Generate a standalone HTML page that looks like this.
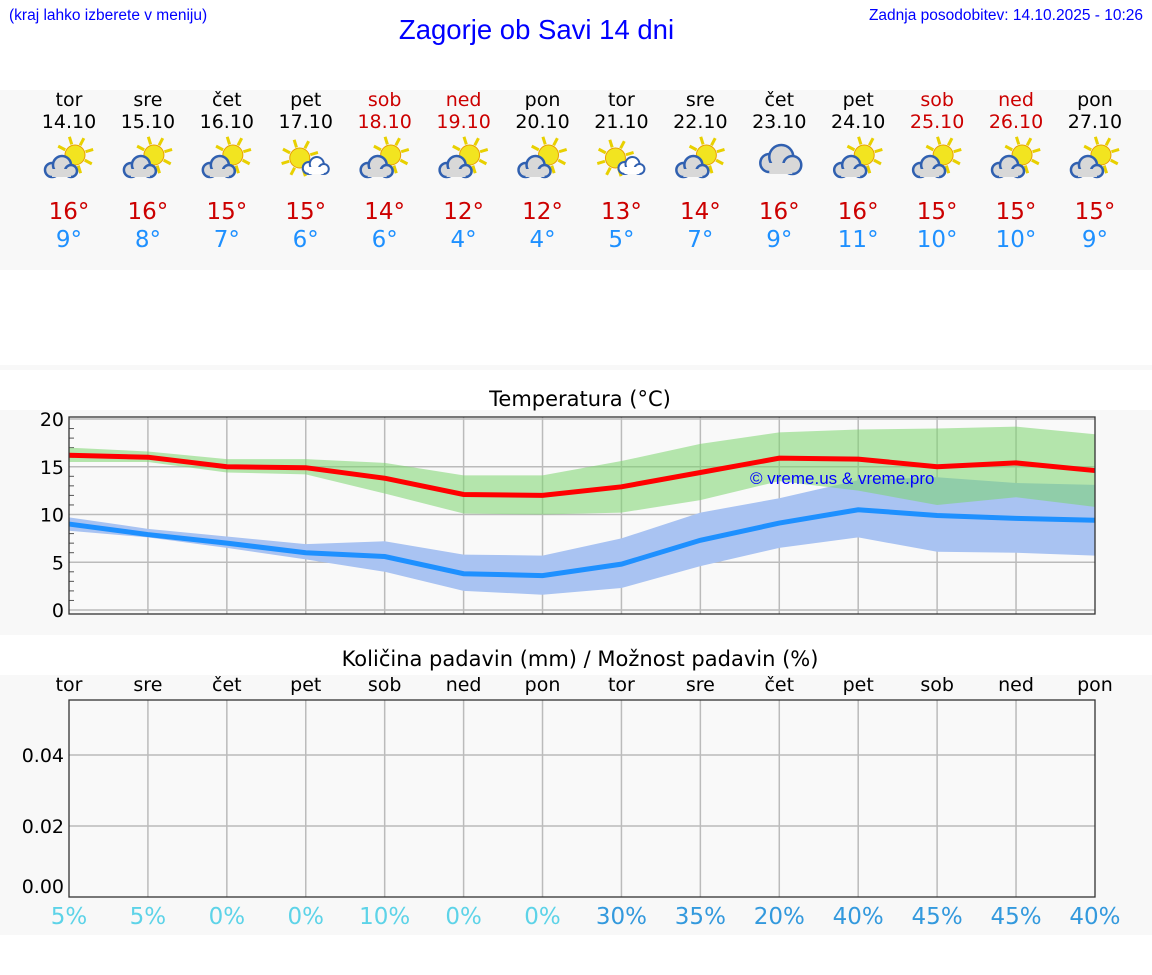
<!DOCTYPE html><html><head><meta charset="utf-8"><style>
body{margin:0;width:1152px;height:975px;background:#fff;font-family:"DejaVu Sans","Liberation Sans",sans-serif;position:relative;overflow:hidden}
.a{position:absolute}
.c{position:absolute;width:80px;margin-left:-40px;text-align:center}
</style></head><body>
<div class="a" style="left:9px;top:7px;font-size:15.5px;color:#00f;font-family:'Liberation Sans',sans-serif">(kraj lahko izberete v meniju)</div>
<div class="a" style="left:0;width:1073px;text-align:center;top:14px;font-size:27.5px;color:#00f;font-family:'Liberation Sans',sans-serif">Zagorje ob Savi 14 dni</div>
<div class="a" style="right:9px;top:7px;font-size:15.5px;color:#00f;font-family:'Liberation Sans',sans-serif">Zadnja posodobitev: 14.10.2025 - 10:26</div>
<div class="a" style="left:0;top:90px;width:1152px;height:180px;background:#f8f8f8"></div>
<div class="a" style="left:0;top:365px;width:1152px;height:5px;background:#f8f8f8"></div>
<div class="a" style="left:0;top:410px;width:1152px;height:225px;background:#f8f8f8"></div>
<div class="a" style="left:0;top:675px;width:1152px;height:260px;background:#f8f8f8"></div>
<div id="top"></div>
<div class="a" style="left:0;width:1160px;text-align:center;top:387px;font-size:21px">Temperatura (°C)</div>
<div class="a" style="left:0;width:1160px;text-align:center;top:647px;font-size:21px">Količina padavin (mm) / Možnost padavin (%)</div>
<svg class="a" style="left:0;top:0" width="1152" height="975" id="s"></svg>
<script>
var X=i=>69+i*78.92;
var days=["tor","sre","čet","pet","sob","ned","pon","tor","sre","čet","pet","sob","ned","pon"];
var dates=["14.10","15.10","16.10","17.10","18.10","19.10","20.10","21.10","22.10","23.10","24.10","25.10","26.10","27.10"];
var hi=[16,16,15,15,14,12,12,13,14,16,16,15,15,15],lo=[9,8,7,6,6,4,4,5,7,9,11,10,10,9];
var pc=[5,5,0,0,10,0,0,30,35,20,40,45,45,40];
var h="";
for(var i=0;i<14;i++){var x=X(i),wk=(i==4||i==5||i==11||i==12);
var col=wk?"#c00":"#000";
h+=`<div class="c" style="left:${x}px;top:89px;font-size:19px;line-height:22px;color:${col}">${days[i]}<br>${dates[i]}</div>`;
h+=`<div class="c" style="left:${x}px;top:199px;font-size:23px;color:#c00">${hi[i]}°</div>`;
h+=`<div class="c" style="left:${x}px;top:227px;font-size:23px;color:#1e90ff">${lo[i]}°</div>`;
h+=`<div class="c" style="left:${x}px;top:674px;font-size:19px">${days[i]}</div>`;
h+=`<div class="c" style="left:${x}px;top:904px;font-size:23px;color:${pc[i]<15?'#5dd3e8':'#3399dd'}">${pc[i]}%</div>`;}
document.getElementById("top").innerHTML=h;
var Y=v=>610-v*9.55;
function pts(a){return a.map((v,i)=>X(i)+","+Y(v)).join(" ")}
function band(u,l){return pts(u)+" "+l.map((v,i)=>[X(i),Y(v)]).reverse().map(p=>p.join(",")).join(" ")}
var gu=[17,16.6,15.8,15.8,15.4,14.1,14.1,15.6,17.4,18.6,18.9,19,19.2,18.4],gl=[15.5,15.5,14.4,14.2,12.2,10.1,10,10.2,11.5,13.5,12.5,11,11.8,10.8];
var bu=[9.7,8.5,7.7,6.9,7.2,5.8,5.7,7.5,10.2,11.7,13.6,13.9,13.3,13.1],bl=[8.3,7.6,6.5,5.3,4,2,1.6,2.3,4.6,6.5,7.6,6.1,6,5.7];
var mx=[16.2,16,15,14.9,13.8,12.1,12,12.9,14.4,15.9,15.8,15,15.4,14.6],mn=[9,7.9,7,6,5.6,3.8,3.6,4.8,7.3,9.1,10.5,9.9,9.6,9.4];
var s=`<rect x="69" y="417" width="1026" height="197" fill="#f9f9f9"/>`;
for(var i=1;i<13;i++)s+=`<line x1="${X(i)}" x2="${X(i)}" y1="417" y2="614" stroke="#bbb" stroke-width="1.5"/>`;
for(var v=0;v<=20;v+=5)s+=`<line x1="69" x2="1095" y1="${Y(v)}" y2="${Y(v)}" stroke="#bbb" stroke-width="1.5"/><text x="64" y="${Y(v)+7}" text-anchor="end" font-size="19">${v}</text>`;
for(var v=1;v<20;v++)if(v%5)s+=`<line x1="69" x2="74" y1="${Y(v)}" y2="${Y(v)}" stroke="#555"/>`;
s+=`<polygon points="${band(bu,bl)}" fill="#a9c3f2"/><polygon points="${band(gu,gl)}" fill="#7cd56e" opacity=".55"/>`;
s+=`<polyline points="${pts(mx)}" fill="none" stroke="#f00" stroke-width="5"/><polyline points="${pts(mn)}" fill="none" stroke="#1e90ff" stroke-width="5"/>`;
s+=`<text x="750" y="484" font-size="17" fill="#00f" font-family="Liberation Sans">© vreme.us &amp; vreme.pro</text>`;
s+=`<rect x="69" y="417" width="1026" height="197" fill="none" stroke="#333" stroke-width="1.3"/>`;
s+=`<rect x="69" y="700" width="1026" height="197" fill="#f9f9f9"/>`;
for(var i=1;i<13;i++)s+=`<line x1="${X(i)}" x2="${X(i)}" y1="700" y2="897" stroke="#bbb" stroke-width="1.5"/>`;
[[755,"0.04"],[826,"0.02"]].forEach(a=>s+=`<line x1="69" x2="1095" y1="${a[0]}" y2="${a[0]}" stroke="#bbb" stroke-width="1.5"/><text x="64" y="${a[0]+7}" text-anchor="end" font-size="19">${a[1]}</text>`);
s+=`<text x="64" y="893" text-anchor="end" font-size="19">0.00</text>`;
s+=`<rect x="69" y="700" width="1026" height="197" fill="none" stroke="#333" stroke-width="1.3"/>`;
function icon(x,type){var sx=type==2?x-6:x+6,sy=type==2?158:155;
var sun=`<g stroke="#e8d000" stroke-width="3">`;for(var k=0;k<8;k++){var a=k*Math.PI/4-0.3;sun+=`<line x1="${sx+Math.cos(a)*11}" y1="${sy+Math.sin(a)*11}" x2="${sx+Math.cos(a)*19}" y2="${sy+Math.sin(a)*19}"/>`}
sun+=`</g><circle cx="${sx}" cy="${sy}" r="10" fill="#f2e420" stroke="#e8a000"/>`;
if(type==3)return `<g stroke="#3060b0" stroke-width="2.5" fill="#d8d8d8"><circle cx="${x-10}" cy="163" r="9"/><circle cx="${x+2}" cy="157" r="12"/><circle cx="${x+13}" cy="165" r="9"/><rect x="${x-10}" y="163" width="23" height="11" stroke="none"/></g>`;
if(type==2)return sun+`<g stroke="#3060b0" stroke-width="2" fill="#fff"><circle cx="${x+3}" cy="168" r="6"/><circle cx="${x+11}" cy="164" r="7"/><circle cx="${x+18}" cy="169" r="5"/><rect x="${x+3}" y="167" width="15" height="7" stroke="none"/></g>`;
return sun+`<g stroke="#3060b0" stroke-width="2.5" fill="#d8d8d8"><circle cx="${x-17}" cy="170" r="7"/><circle cx="${x-7}" cy="165" r="9"/><circle cx="${x+2}" cy="171" r="6"/><rect x="${x-17}" y="169" width="19" height="8" stroke="none"/></g>`;}
var types=[1,1,1,2,1,1,1,2,1,3,1,1,1,1];
for(var i=0;i<14;i++)s+=icon(X(i),types[i]);
document.getElementById("s").innerHTML=s;
</script>
</body></html>
